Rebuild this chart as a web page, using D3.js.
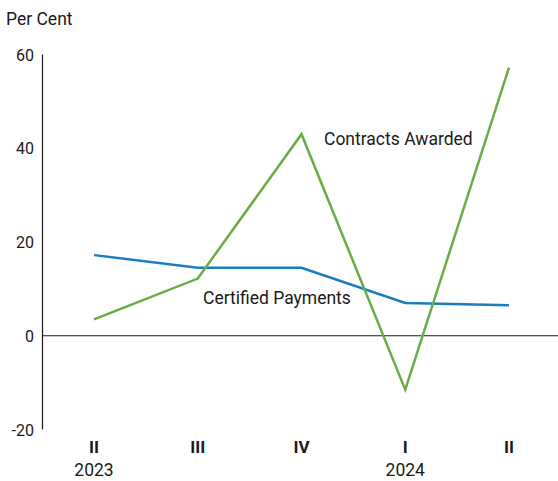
<!DOCTYPE html>
<html>
<head>
<meta charset="utf-8">
<script src="https://cdn.jsdelivr.net/npm/d3@7"></script>
<style>
  body { margin: 0; background: #fff; }
  text { font-family: Roboto, "Liberation Sans", sans-serif; fill: #1a1a1a; }
</style>
</head>
<body>
<div id="chart"></div>
<script>
// quarters along the x axis
var quarters = ["II", "III", "IV", "I", "II"];
var years = ["2023", "", "", "2024", ""];
var contracts = [3.5, 12.2, 43, -11.5, 57.2];
var certified = [17.2, 14.5, 14.5, 7, 6.5];
var yTicks = [60, 40, 20, 0, -20];

var width = 558, height = 481;

var svg = d3.select("#chart")
            .append("svg")
            .attr("width", width)
            .attr("height", height);

var x = d3.scalePoint()
          .domain(d3.range(quarters.length))
          .range([94, 509]);

var y = d3.scaleLinear()
          .domain([-20, 60])
          .range([429.5, 54.5]);

// y axis line
svg.append("line")
   .attr("x1", 42.5).attr("x2", 42.5)
   .attr("y1", y(60)).attr("y2", y(-20))
   .attr("stroke", "#1a1a1a").attr("stroke-width", 1.2);

// zero line
svg.append("line")
   .attr("x1", 42.5).attr("x2", width)
   .attr("y1", y(0)).attr("y2", y(0))
   .attr("stroke", "#1a1a1a").attr("stroke-width", 1.2);

// tick labels
svg.selectAll(".ytick")
   .data(yTicks)
   .enter()
   .append("text")
   .attr("x", 34)
   .attr("y", function(d) { return y(d) + 6; })
   .attr("text-anchor", "end")
   .attr("font-size", 16)
   .text(function(d) { return d; });

svg.append("text")
   .attr("x", 6).attr("y", 25)
   .attr("font-size", 17.5)
   .text("Per Cent");

svg.selectAll(".xq")
   .data(quarters)
   .enter()
   .append("text")
   .attr("x", function(d, i) { return x(i); })
   .attr("y", 453)
   .attr("text-anchor", "middle")
   .attr("font-size", 17)
   .attr("font-weight", "bold")
   .text(function(d) { return d; });

svg.selectAll(".xy")
   .data(years)
   .enter()
   .append("text")
   .attr("x", function(d, i) { return x(i); })
   .attr("y", 476)
   .attr("text-anchor", "middle")
   .attr("font-size", 17.5)
   .text(function(d) { return d; });

var line = d3.line()
             .x(function(d, i) { return x(i); })
             .y(function(d) { return y(d); });

svg.append("path")
   .datum(certified)
   .attr("d", line)
   .attr("fill", "none")
   .attr("stroke", "#1b7cc1")
   .attr("stroke-width", 2.5);

svg.append("path")
   .datum(contracts)
   .attr("d", line)
   .attr("fill", "none")
   .attr("stroke", "#6aad45")
   .attr("stroke-width", 2.5);

svg.append("text")
   .attr("x", 324).attr("y", 145)
   .attr("font-size", 17.5)
   .text("Contracts Awarded");

svg.append("text")
   .attr("x", 203).attr("y", 304)
   .attr("font-size", 17.5)
   .text("Certified Payments");
</script>
</body>
</html>
